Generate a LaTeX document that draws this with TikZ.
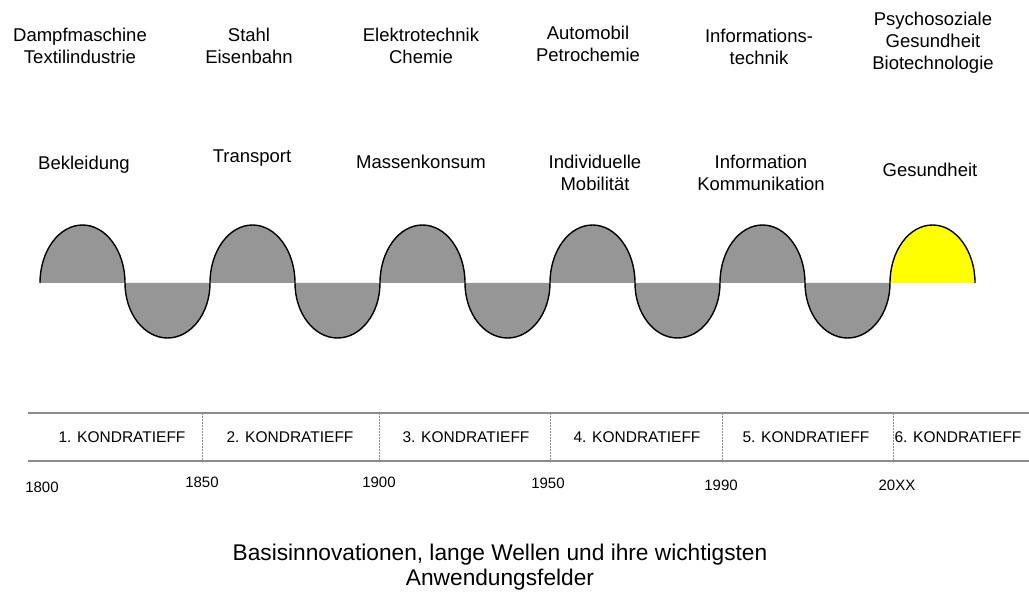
\documentclass[tikz,border=0pt]{standalone}
\usepackage{fontspec}
\setmainfont{Liberation Sans}
\usepackage{tikz}
\usetikzlibrary{positioning, calc}
\usepackage{xcolor}
\definecolor{wavegray}{HTML}{969696}
\definecolor{linegray}{HTML}{8C8C8C}
\definecolor{newwave}{HTML}{FFFF00}
\tikzset{
  lbl/.style={font=\fontsize{18.5}{22}\selectfont, align=center, inner sep=0pt},
  yr/.style={font=\fontsize{15}{18}\selectfont, inner sep=0pt},
  kond/.style={font=\fontsize{15.5}{18}\selectfont, inner sep=0pt},
  wave/.style={draw=black, line width=1.4pt},
  timeline/.style={draw=linegray, line width=1.6pt},
  divider/.style={draw=linegray, line width=0.9pt, dash pattern=on 2pt off 1pt},
}

\begin{document}
\begin{tikzpicture}[x=1pt, y=-1pt,
  hump/.style={start angle=180, end angle=360, x radius=42.5, y radius=58},
  trough/.style={start angle=180, end angle=0, x radius=42.5, y radius=55}
]
  \useasboundingbox (0,0) rectangle (1029,593);

  % key technologies
  \node[lbl] (tech1) at (80,46) {Dampfmaschine\\Textilindustrie};
  \node[lbl] (tech2) at (249,46) {Stahl\\Eisenbahn};
  \node[lbl] (tech3) at (421,46) {Elektrotechnik\\Chemie};
  \node[lbl] (tech4) at (588,44) {Automobil\\Petrochemie};
  \node[lbl] (tech5) at (759,47) {Informations-\\technik};
  \node[lbl] (tech6) at (933,43) {Psychosoziale\\Gesundheit\\Biotechnologie};

  % fields of application
  \node[lbl] (use1) at (84,165) {Bekleidung};
  \node[lbl] (use2) at (252,158) {Transport};
  \node[lbl] (use3) at (421,162) {Massenkonsum};
  \node[lbl] (use4) at (595,173) {Individuelle\\Mobilität};
  \node[lbl] (use5) at (761,173) {Information\\Kommunikation};
  \node[lbl] (use6) at (930,170) {Gesundheit};

  % the long waves
  \coordinate (w0) at (40,283);
  \coordinate (w1) at (975,283);
  \fill[wavegray] (w0) arc[hump] arc[trough] arc[hump] arc[trough]
    arc[hump] arc[trough] arc[hump] arc[trough] arc[hump] arc[trough]
    arc[hump] -- cycle;
  \fill[newwave] (890,283) arc[hump] -- cycle;
  \draw[wave] (w0) arc[hump] arc[trough] arc[hump] arc[trough]
    arc[hump] arc[trough] arc[hump] arc[trough] arc[hump] arc[trough]
    arc[hump];

  % time line
  \coordinate (tl) at (28,413);
  \coordinate (tr) at (1029,413);
  \coordinate (bl) at (28,461);
  \coordinate (br) at (1029,461);
  \draw[timeline] (tl) -- (tr);
  \draw[timeline] (bl) -- (br);
  \draw[divider] (202,413) -- (202,461);
  \draw[divider] (379,413) -- (379,461);
  \draw[divider] (550,413) -- (550,461);
  \draw[divider] (722,413) -- (722,461);
  \draw[divider] (893,413) -- (893,461);

  \node[kond] (k1) at (122,437) {1. KONDRATIEFF};
  \node[kond] (k2) at (290,437) {2. KONDRATIEFF};
  \node[kond] (k3) at (466,437) {3. KONDRATIEFF};
  \node[kond] (k4) at (637,437) {4. KONDRATIEFF};
  \node[kond] (k5) at (806,437) {5. KONDRATIEFF};
  \node[kond] (k6) at (958,437) {6. KONDRATIEFF};

  \node[yr] (y1800) at (42,487) {1800};
  \node[yr] (y1850) at (202,482) {1850};
  \node[yr] (y1900) at (379,482) {1900};
  \node[yr] (y1950) at (548,483) {1950};
  \node[yr] (y1990) at (721,485) {1990};
  \node[yr] (y20xx) at (897,485) {20XX};

  \node[lbl, font=\fontsize{22.7}{25}\selectfont] (caption) at (500,567) {Basisinnovationen, lange Wellen und ihre wichtigsten\\Anwendungsfelder};
\end{tikzpicture}
\end{document}
